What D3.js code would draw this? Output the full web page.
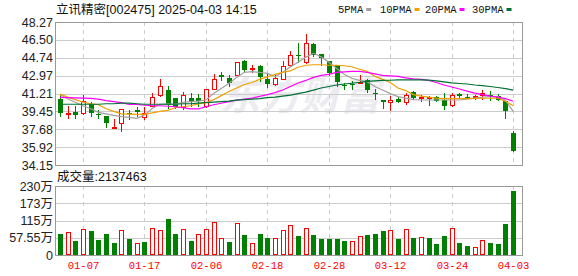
<!DOCTYPE html>
<html lang="zh">
<head>
<meta charset="UTF-8">
<title>立讯精密 K线</title>
<script src="https://d3js.org/d3.v7.min.js"></script>
<style>
  body { margin: 0; background: #fff; }
  svg text { font-family: "Liberation Sans", Arial, "Noto Sans CJK SC", sans-serif; }
</style>
</head>
<body>
<svg id="chart" width="578" height="276"></svg>
<script>
// trading days shown on the chart
var dates = ["01-02","01-03","01-06","01-07","01-08","01-09","01-10","01-13","01-14","01-15",
  "01-16","01-17","01-20","01-21","01-22","01-23","01-24","01-27","02-05","02-06",
  "02-07","02-10","02-11","02-12","02-13","02-14","02-17","02-18","02-19","02-20",
  "02-21","02-24","02-25","02-26","02-27","02-28","03-03","03-04","03-05","03-06",
  "03-07","03-10","03-11","03-12","03-13","03-14","03-17","03-18","03-19","03-20",
  "03-21","03-24","03-25","03-26","03-27","03-28","03-31","04-01","04-02","04-03"];

var open = [40.70,39.28,39.38,39.28,40.21,39.17,38.96,37.87,38.25,39.32,
  39.60,38.93,40.02,41.02,41.56,40.79,39.86,40.79,40.79,40.02,
  41.69,43.04,42.72,43.07,44.39,43.62,43.88,42.69,42.14,42.69,
  44.04,45.00,44.36,46.13,45.07,44.39,44.00,42.08,42.17,42.30,
  42.53,41.27,40.60,40.37,40.70,40.34,41.34,40.86,40.86,40.82,
  40.57,40.05,41.15,40.89,40.89,41.02,41.08,40.98,40.50,37.32];
var close = [39.28,39.32,39.09,40.47,39.28,39.12,38.28,37.93,39.70,39.25,
  39.35,39.25,40.86,41.92,40.08,39.86,41.05,40.34,40.50,41.63,
  42.62,42.79,42.27,44.33,43.56,43.68,42.85,42.14,42.78,43.91,
  45.00,44.97,46.16,45.00,44.68,43.23,42.37,42.05,42.14,42.37,
  41.60,41.24,40.34,40.57,40.41,41.08,40.76,40.89,40.89,40.50,
  39.96,41.08,40.98,40.86,40.92,41.24,41.05,40.54,39.44,35.52];
var high = [41.15,40.02,40.02,41.02,40.37,39.54,38.96,38.73,39.70,39.57,
  39.86,39.83,41.27,42.62,41.95,40.79,41.37,41.27,41.21,41.63,
  43.17,43.33,43.04,44.33,44.52,44.04,44.04,43.17,43.01,44.46,
  45.42,46.16,47.13,46.22,45.07,44.39,44.00,42.27,42.46,43.01,
  42.69,41.66,40.60,40.98,40.86,41.30,41.47,41.05,40.95,40.98,
  41.24,41.27,41.24,41.21,41.08,41.53,41.50,41.15,40.50,37.51];
var low = [39.00,38.77,38.77,39.15,39.00,38.83,37.93,37.77,37.55,38.73,
  39.00,38.73,40.02,40.92,39.80,39.80,39.70,40.02,40.02,39.89,
  41.63,42.53,41.98,43.01,43.36,43.33,42.46,41.85,42.05,42.62,
  43.97,44.36,44.23,44.87,44.07,43.01,41.95,41.63,41.63,42.30,
  41.40,40.66,39.80,39.63,40.37,40.15,40.70,40.44,40.12,40.44,
  39.67,39.99,40.82,40.76,40.63,40.70,40.57,40.54,38.77,35.52];

// moving averages as drawn
var ma5 = [41.08,40.70,40.34,40.00,39.70,39.35,39.20,39.05,38.93,38.85,
  38.76,39.08,39.73,40.14,40.20,40.14,40.34,40.40,40.45,40.57,
  41.20,41.70,42.22,42.80,43.30,43.36,43.30,43.20,42.87,43.30,
  43.86,44.30,44.80,45.18,44.84,44.30,43.70,43.10,42.71,42.50,
  42.38,41.90,41.56,41.20,40.90,40.75,40.60,40.57,40.57,40.57,
  40.57,40.57,40.57,40.65,40.75,40.85,40.90,40.90,40.55,39.45];
var ma10 = [41.15,40.85,40.60,40.35,40.20,40.10,39.70,39.45,39.20,39.17,
  39.15,39.15,39.30,39.45,39.55,39.80,39.90,40.00,40.18,40.30,
  40.60,41.00,41.40,41.75,42.10,42.30,42.60,42.85,43.10,43.30,
  43.45,43.80,44.00,44.05,44.05,44.00,44.00,43.95,43.85,43.60,
  43.40,42.90,42.60,42.30,41.75,41.50,41.10,40.95,40.85,40.75,
  40.70,40.70,40.70,40.70,40.72,40.74,40.74,40.74,40.45,40.00];
var ma20 = [40.82,40.80,40.78,40.75,40.72,40.65,40.50,40.40,40.30,40.14,
  40.14,40.05,40.00,40.00,39.95,39.90,39.80,39.70,39.70,39.90,
  40.10,40.25,40.40,40.55,40.65,40.75,40.92,41.10,41.30,41.55,
  41.90,42.25,42.50,42.80,43.00,43.10,43.30,43.35,43.40,43.40,
  43.30,43.15,43.00,42.95,42.90,42.75,42.65,42.60,42.50,42.30,
  42.05,41.85,41.65,41.45,41.25,41.10,40.95,40.85,40.70,40.45];
var ma30 = [40.15,40.15,40.15,40.15,40.15,40.15,40.20,40.20,40.25,40.25,
  40.20,40.15,40.15,40.15,40.15,40.15,40.20,40.20,40.25,40.30,
  40.35,40.40,40.45,40.55,40.60,40.65,40.70,40.80,40.85,40.95,
  41.05,41.20,41.35,41.55,41.75,41.90,42.05,42.15,42.22,42.30,
  42.40,42.45,42.50,42.52,42.55,42.57,42.55,42.55,42.53,42.45,
  42.35,42.25,42.20,42.15,42.05,41.98,41.90,41.80,41.70,41.55];

// volume in 万 shares, and whether the bar is drawn red (up) or green
var volume = [70,76.7,47.8,85.6,80,50,70,40,83.3,53.3,
  40,44.4,88.9,83.3,120,70,85.6,47.8,70,85.6,
  110,55.6,44.4,105.6,66.7,40,70,57.8,57,83.3,
  100,63.3,88.9,66.7,53.3,53.3,53.3,47.8,46.7,63.3,
  66.7,70,80,83.3,53.3,85.6,57,60,57,36.7,
  63.3,88.9,40,30,25.6,50,40,36.7,103.3,213.7];
var volUp = [0,1,0,1,0,0,0,0,1,0, 1,0,1,1,0,0,1,0,1,1,
  1,1,0,1,0,1,0,0,1,1, 1,0,1,0,0,0,0,0,1,1,
  0,0,0,1,0,1,0,1,0,0, 0,1,0,0,1,1,0,0,0,0];

var priceTicks = [48.27,46.50,44.74,42.97,41.21,39.45,37.68,35.92,34.15];
var volTicks = [0,57.55,115,173,230];
var volTickLabels = ["0","57.55万","115万","173万","230万"];
var dateTicks = ["01-07","01-17","02-06","02-18","02-28","03-12","03-24","04-03"];

var maNames = ["5PMA","10PMA","20PMA","30PMA"];
var maColors = ["#a0a0a0","#f0a000","#ff00ff","#007035"];
var maSeries = [ma5, ma10, ma20, ma30];

var RED = "#ff0000", GREEN = "#008000";
var left = 55, right = 522;
var pTop = 22, pBot = 165, vTop = 186, vBot = 255;

var svg = d3.select("#chart");

var x = d3.scaleBand().domain(dates).range([56.16, 517.0]).paddingInner(0.35).paddingOuter(0.175);
var y = d3.scaleLinear().domain([34.15, 48.27]).range([pBot, pTop]);
var yv = d3.scaleLinear().domain([0, 230]).range([vBot, vTop]);
var cx = function(i) { return Math.round(x(dates[i]) + x.bandwidth() / 2) + 0.5; };

// watermark
svg.append("text")
  .attr("x", 300).attr("y", 110)
  .attr("text-anchor", "middle")
  .style("font-family", "'Noto Sans CJK SC', sans-serif")
  .style("font-size", "40px")
  .style("font-weight", "bold")
  .style("font-style", "italic")
  .attr("fill", "#ececf0")
  .text("东方财富");

// grid lines
var grid = svg.append("g").attr("shape-rendering", "crispEdges");
grid.selectAll(".hp").data(priceTicks.slice(1, -1)).enter().append("line")
  .attr("x1", left).attr("x2", right)
  .attr("y1", function(d) { return Math.round(y(d)) + 0.5; })
  .attr("y2", function(d) { return Math.round(y(d)) + 0.5; })
  .attr("stroke", "#cccccc");
grid.selectAll(".hv").data(volTicks.slice(1, -1)).enter().append("line")
  .attr("x1", left).attr("x2", right)
  .attr("y1", function(d) { return Math.round(yv(d)) + 0.5; })
  .attr("y2", function(d) { return Math.round(yv(d)) + 0.5; })
  .attr("stroke", "#cccccc");
[[pTop, pBot], [vTop, vBot]].forEach(function(p) {
  grid.selectAll(null).data(dateTicks).enter().append("line")
    .attr("x1", function(d) { return cx(dates.indexOf(d)); })
    .attr("x2", function(d) { return cx(dates.indexOf(d)); })
    .attr("y1", p[0]).attr("y2", p[1])
    .attr("stroke", "#cccccc")
    .attr("stroke-dasharray", "4,4");
});

// candles
var candles = svg.append("g").attr("shape-rendering", "crispEdges");
dates.forEach(function(d, i) {
  var up = close[i] >= open[i];
  var col = up ? RED : GREEN;
  var c = cx(i);
  candles.append("line")
    .attr("x1", c).attr("x2", c)
    .attr("y1", Math.round(y(high[i]))).attr("y2", Math.round(y(low[i])) + 1)
    .attr("stroke", col);
  var top = Math.round(y(Math.max(open[i], close[i])));
  var bot = Math.round(y(Math.min(open[i], close[i])));
  if (up) {
    candles.append("rect")
      .attr("x", c - 2).attr("y", top + 0.5)
      .attr("width", 4).attr("height", Math.max(bot - top, 1))
      .attr("fill", "#fff").attr("stroke", col);
  } else {
    candles.append("rect")
      .attr("x", c - 2.5).attr("y", top)
      .attr("width", 5).attr("height", Math.max(bot - top, 1))
      .attr("fill", col);
  }
});

// moving average lines
var line = d3.line()
  .x(function(d, i) { return x(dates[i]) + x.bandwidth() / 2; })
  .y(function(d) { return y(d); });
maSeries.forEach(function(s, k) {
  svg.append("path")
    .datum(s)
    .attr("d", line)
    .attr("fill", "none")
    .attr("stroke", maColors[k])
    .attr("stroke-width", 1.2);
});

// volume bars
var vols = svg.append("g").attr("shape-rendering", "crispEdges");
volume.forEach(function(v, i) {
  var c = cx(i);
  var top = Math.round(yv(v));
  if (volUp[i]) {
    vols.append("rect")
      .attr("x", c - 2).attr("y", top + 0.5)
      .attr("width", 4).attr("height", vBot - top - 1)
      .attr("fill", "#fff").attr("stroke", RED);
  } else {
    vols.append("rect")
      .attr("x", c - 2.5).attr("y", top)
      .attr("width", 5).attr("height", vBot - top)
      .attr("fill", GREEN);
  }
});

// frames
var frames = svg.append("g").attr("shape-rendering", "crispEdges");
[[pTop, pBot], [vTop, vBot]].forEach(function(p) {
  frames.append("rect")
    .attr("x", left + 0.5).attr("y", p[0] + 0.5)
    .attr("width", right - left).attr("height", p[1] - p[0])
    .attr("fill", "none").attr("stroke", "#999999").attr("stroke-width", 1.5);
});

// y axis labels
var axisCol = "#222222";
var pAxis = d3.axisLeft(y).tickValues(priceTicks).tickSize(0).tickPadding(2)
  .tickFormat(d3.format(".2f"));
svg.append("g").attr("transform", "translate(" + left + ",0)").call(pAxis)
  .call(function(g) { g.select(".domain").remove(); })
  .selectAll("text")
  .style("font-size", "12.5px").style("font-family", "'Liberation Sans', Arial")
  .attr("fill", axisCol);

var vAxis = d3.axisLeft(yv).tickValues(volTicks).tickSize(0).tickPadding(2)
  .tickFormat(function(d, i) { return volTickLabels[i]; });
svg.append("g").attr("transform", "translate(" + left + ",0)").call(vAxis)
  .call(function(g) { g.select(".domain").remove(); })
  .selectAll("text")
  .style("font-size", "12.5px").style("font-family", "'Liberation Sans', Arial, 'Noto Sans CJK SC'")
  .attr("fill", axisCol);

// date labels
svg.selectAll(".dl").data(dateTicks).enter().append("text")
  .attr("x", function(d) { return cx(dates.indexOf(d)); })
  .attr("y", 269)
  .attr("text-anchor", "middle")
  .style("font-family", "'Liberation Mono', monospace")
  .style("font-size", "10.5px")
  .attr("fill", RED)
  .text(function(d) { return d; });

// title and volume caption
svg.append("text").attr("x", 56).attr("y", 14)
  .style("font-size", "12.5px").attr("fill", "#111")
  .text("立讯精密[002475] 2025-04-03 14:15");
svg.append("text").attr("x", 57).attr("y", 181)
  .style("font-size", "12.5px").attr("fill", "#111")
  .text("成交量:2137463");

// legend
var legendX = [338, 380, 425, 472];
maNames.forEach(function(n, k) {
  var t = svg.append("text").attr("x", legendX[k]).attr("y", 13)
    .style("font-family", "'Liberation Mono', monospace")
    .style("font-size", "10.5px")
    .attr("fill", "#111")
    .text(n);
  var w = t.node().getComputedTextLength();
  svg.append("rect")
    .attr("x", legendX[k] + w + 3).attr("y", 8)
    .attr("width", 5).attr("height", 3)
    .attr("fill", maColors[k]);
});
</script>
</body>
</html>
